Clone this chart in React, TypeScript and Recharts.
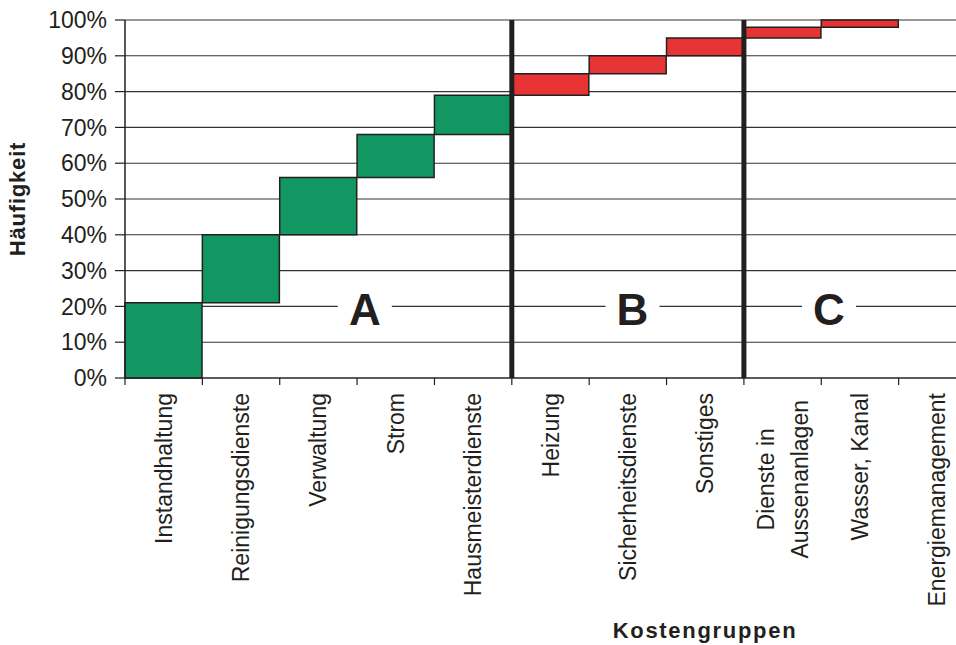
import React from 'react';
import {
  ComposedChart,
  Bar,
  Cell,
  XAxis,
  YAxis,
  CartesianGrid,
  ReferenceLine,
  ReferenceDot,
} from 'recharts';

const categories = [
  'Instandhaltung',
  'Reinigungsdienste',
  'Verwaltung',
  'Strom',
  'Hausmeisterdienste',
  'Heizung',
  'Sicherheitsdienste',
  'Sonstiges',
  'Dienste in\nAussenanlagen',
  'Wasser, Kanal',
  'Energiemanagement',
];
const shares = [21, 19, 16, 12, 11, 6, 5, 5, 3, 2, 0];
const groups = ['A', 'A', 'A', 'A', 'A', 'B', 'B', 'B', 'C', 'C', 'C'];
const yTicks = [0, 10, 20, 30, 40, 50, 60, 70, 80, 90, 100];

const groupColors: Record<string, string> = {
  A: '#129762',
  B: '#e53433',
  C: '#e53433',
};

const FONT = '"Liberation Sans", Arial, sans-serif';
const INK = '#231f20';
const TICK_SIZE = 23;

// waterfall: invisible base + visible share
let running = 0;
const data = categories.map((name, i) => {
  const row = { name, pos: i + 0.5, base: running, share: shares[i], group: groups[i] };
  running += shares[i];
  return row;
});

// first category of each new group -> thick divider on its left edge
const boundaryCats = categories.filter((_, i) => i > 0 && groups[i] !== groups[i - 1]);

// where the big letters sit (category units) on the 20% line
const zoneLabelPos = [
  { label: 'A', x: 3.1 },
  { label: 'B', x: 6.56 },
  { label: 'C', x: 9.1 },
];

let measureCtx: CanvasRenderingContext2D | null = null;
function textWidth(s: string) {
  if (!measureCtx) {
    const c = document.createElement('canvas');
    measureCtx = c.getContext('2d');
  }
  if (!measureCtx) return s.length * TICK_SIZE * 0.5;
  measureCtx.font = `${TICK_SIZE}px ${FONT}`;
  return measureCtx.measureText(s).width;
}

function CategoryTick(props: any) {
  const { x, y, payload } = props;
  const half = payload && payload.offset ? payload.offset : 38.7;
  const lines = String(payload.value).split('\n');
  const top = y + 15 + (lines.length > 1 ? 7 : 0);
  const lineGap = 34;
  const longest = Math.max(...lines.map(textWidth));
  return (
    <g>
      <line x1={x - half} x2={x - half} y1={y} y2={y + 7} stroke={INK} strokeWidth={1.2} />
      {lines.map((ln, i) => {
        const lx = x + (i - (lines.length - 1) / 2) * lineGap;
        const cy = top + longest / 2;
        return (
          <text
            key={i}
            x={lx}
            y={cy}
            dy="0.35em"
            textAnchor="middle"
            transform={`rotate(-90, ${lx}, ${cy})`}
            fontFamily={FONT}
            fontSize={TICK_SIZE}
            fill={INK}
          >
            {ln}
          </text>
        );
      })}
    </g>
  );
}

function ZoneLetter(props: any) {
  const { cx, cy, label } = props;
  return (
    <g>
      <rect x={cx - 27} y={cy - 22} width={54} height={44} fill="#fff" />
      <text
        x={cx}
        y={cy + 3}
        dy="0.35em"
        textAnchor="middle"
        fontFamily={FONT}
        fontWeight="bold"
        fontSize={44}
        fill={INK}
      >
        {label}
      </text>
    </g>
  );
}

export default function App() {
  return (
    <div
      style={{
        position: 'absolute',
        left: 0,
        top: 0,
        width: 956,
        height: 645,
        overflow: 'hidden',
        background: '#fff',
      }}
    >
      <ComposedChart
        width={990}
        height={645}
        data={data}
        margin={{ top: 20, right: 14, left: 0, bottom: 0 }}
        barCategoryGap={0}
        barGap={0}
      >
        <CartesianGrid vertical={false} stroke="#333" strokeWidth={1.1} xAxisId="c" />
        <XAxis
          xAxisId="c"
          dataKey="name"
          type="category"
          height={267}
          interval={0}
          tickSize={0}
          tickMargin={0}
          tickLine={false}
          axisLine={{ stroke: INK, strokeWidth: 1.2 }}
          tick={<CategoryTick />}
          label={{
            content: () => (
              <text
                x={705}
                y={638}
                textAnchor="middle"
                fontFamily={FONT}
                fontWeight="bold"
                fontSize={22}
                letterSpacing={1.7}
                fill={INK}
              >
                Kostengruppen
              </text>
            ),
          }}
        />
        <XAxis
          xAxisId="n"
          dataKey="pos"
          type="number"
          domain={[0, categories.length]}
          hide
          allowDataOverflow
        />
        <YAxis
          domain={[0, 100]}
          ticks={yTicks}
          width={125}
          interval={0}
          tickSize={10}
          tickMargin={8}
          tickFormatter={(v: number) => `${v}%`}
          tick={{ fill: INK, fontFamily: FONT, fontSize: TICK_SIZE }}
          tickLine={{ stroke: INK, strokeWidth: 1.2 }}
          axisLine={{ stroke: INK, strokeWidth: 1.5 }}
          label={{
            content: (p: any) => {
              const vb = p.viewBox || { y: 20, height: 358 };
              const cx = 17;
              const cy = vb.y + vb.height / 2;
              return (
                <text
                  x={cx}
                  y={cy}
                  dy="0.35em"
                  textAnchor="middle"
                  transform={`rotate(-90, ${cx}, ${cy})`}
                  fontFamily={FONT}
                  fontWeight="bold"
                  fontSize={22}
                  letterSpacing={0.8}
                  fill={INK}
                >
                  Häufigkeit
                </text>
              );
            },
          }}
        />
        <Bar
          xAxisId="c"
          dataKey="base"
          stackId="w"
          fill="transparent"
          stroke="none"
          isAnimationActive={false}
        />
        <Bar
          xAxisId="c"
          dataKey="share"
          stackId="w"
          stroke={INK}
          strokeWidth={1.5}
          isAnimationActive={false}
        >
          {data.map((d, i) => (
            <Cell key={i} fill={groupColors[d.group]} />
          ))}
        </Bar>
        {zoneLabelPos.map((z) => (
          <ReferenceDot
            key={z.label}
            xAxisId="n"
            x={z.x}
            y={20}
            r={0}
            ifOverflow="visible"
            shape={(p: any) => <ZoneLetter {...p} label={z.label} />}
          />
        ))}
        {boundaryCats.map((c) => (
          <ReferenceLine
            key={c}
            xAxisId="c"
            x={c}
            position="start"
            stroke={INK}
            strokeWidth={5}
            ifOverflow="visible"
          />
        ))}
      </ComposedChart>
    </div>
  );
}
